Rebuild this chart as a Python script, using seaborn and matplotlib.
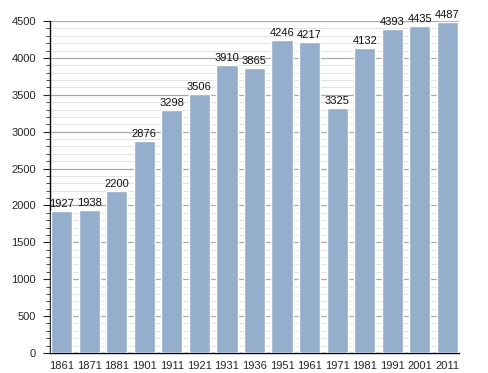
import pandas as pd
import seaborn as sns
import matplotlib.pyplot as plt
from matplotlib.ticker import MultipleLocator

# population by census year
years = ['1861', '1871', '1881', '1901', '1911', '1921', '1931', '1936',
         '1951', '1961', '1971', '1981', '1991', '2001', '2011']
population = [1927, 1938, 2200, 2876, 3298, 3506, 3910, 3865,
              4246, 4217, 3325, 4132, 4393, 4435, 4487]

df = pd.DataFrame({'year': years, 'pop': population})

sns.set_style('white')
plt.rcParams['font.family'] = ['Liberation Sans', 'DejaVu Sans']

fig = plt.figure(figsize=(4.88, 3.73), dpi=100)
ax = fig.add_axes([50 / 488, 20 / 373, 409 / 488, 332 / 373])

sns.barplot(data=df, x='year', y='pop', color='#94aecb', saturation=1,
            width=0.77, ax=ax, zorder=3)

for i, v in enumerate(population):
    ax.text(i, v + 25, str(v), ha='center', va='bottom', fontsize=8,
            color='#111111', zorder=4)

ax.set_ylim(0, 4500)
ax.set_xlim(-0.42, len(years) - 0.58)
ax.yaxis.set_major_locator(MultipleLocator(500))
ax.yaxis.set_minor_locator(MultipleLocator(100))
ax.grid(axis='y', which='major', color='#a8a8a8', linewidth=0.9, zorder=0)
ax.grid(axis='y', which='minor', color='#e2e2e2', linewidth=0.7, zorder=0)
ax.set_axisbelow(True)

ax.set_xlabel('')
ax.set_ylabel('')
for s in ['top', 'right']:
    ax.spines[s].set_visible(False)
ax.spines['left'].set_color('black')
ax.spines['bottom'].set_color('black')
ax.spines['left'].set_linewidth(1.0)
ax.spines['bottom'].set_linewidth(1.0)

ax.tick_params(axis='y', which='major', left=True, length=5, width=0.8,
               labelsize=8, pad=5)
ax.tick_params(axis='y', which='minor', left=True, length=3, width=0.6)
ax.tick_params(axis='x', bottom=False, labelsize=8, pad=2)

fig.savefig('out.png', dpi=100)
